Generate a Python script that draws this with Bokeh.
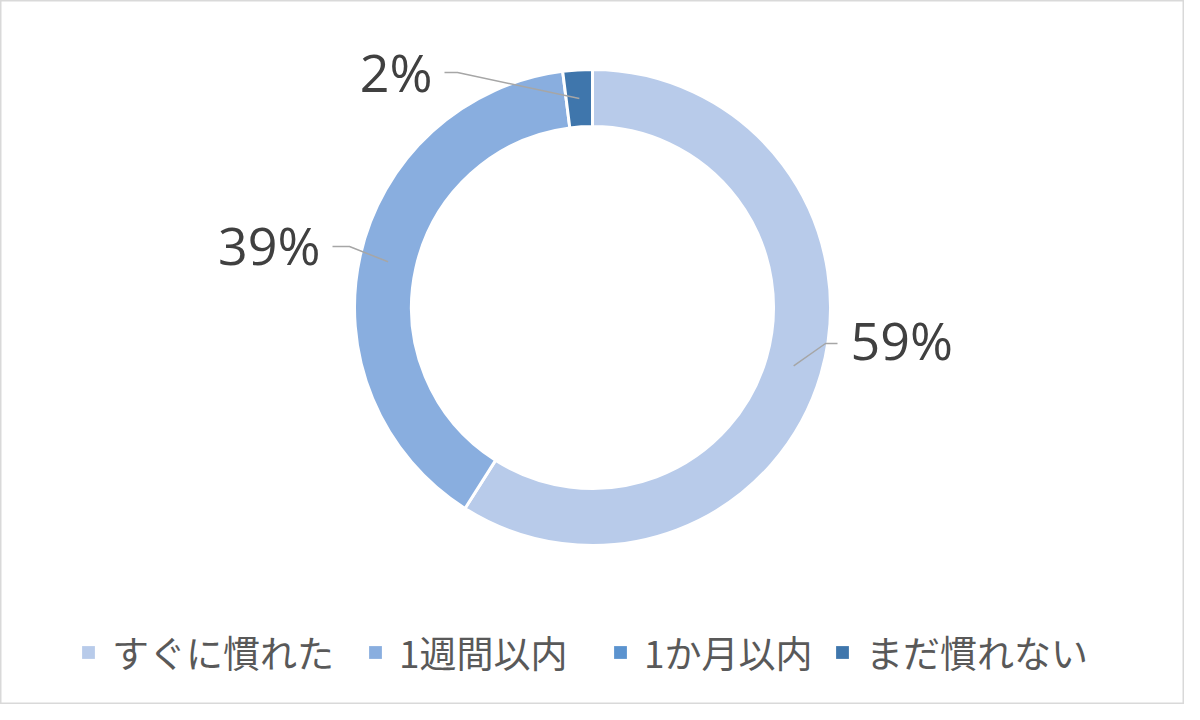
import math
from bokeh.plotting import figure
from bokeh.models import ColumnDataSource, Legend, LegendItem
from bokeh.core.properties import value
from bokeh.embed import file_html
from bokeh.resources import INLINE

# ---- data ----
categories = ["すぐに慣れた", "1週間以内", "1か月以内", "まだ慣れない"]
percents = [59, 39, 0, 2]
colors = ["#B8CBEA", "#89AEDF", "#5B93CF", "#3F76AC"]

# ---- layout ----
W, H = 1184, 704
CX, CY = 592, 704 - 307
R_OUT, R_IN = 238, 181
R_MID = (R_OUT + R_IN) / 2

total = sum(percents)
starts, ends, mids = [], [], []
acc = 0.0
for v in percents:
    a0 = acc / total * 2 * math.pi
    acc += v
    a1 = acc / total * 2 * math.pi
    # clockwise from 12 o'clock -> bokeh angle (ccw from +x)
    starts.append(math.pi / 2 - a0)
    ends.append(math.pi / 2 - a1)
    mids.append(math.pi / 2 - (a0 + a1) / 2)

nz = [i for i, v in enumerate(percents) if v > 0]
ring_src = ColumnDataSource(dict(cat=[categories[i] for i in nz],
                                 color=[colors[i] for i in nz],
                                 start=[starts[i] for i in nz],
                                 end=[ends[i] for i in nz]))
legend_src = ColumnDataSource(dict(cat=categories, color=colors,
                                   start=starts, end=ends,
                                   x=[float("nan")] * len(categories)))

p = figure(width=W, height=H, x_range=(0, W), y_range=(0, H),
           output_backend="svg", toolbar_location=None, min_border=0,
           x_axis_location=None, y_axis_location=None)
p.grid.visible = False
p.outline_line_color = "#D9D9D9"
p.outline_line_width = 2
p.background_fill_color = "white"
p.border_fill_color = "white"

p.annular_wedge(x=CX, y=CY, inner_radius=R_IN, outer_radius=R_OUT,
                start_angle="start", end_angle="end", direction="clock",
                fill_color="color", line_color="white", line_width=3,
                source=ring_src)

# legend-only renderer (not drawn: x is NaN)
leg_r = p.annular_wedge(x="x", y=CY, inner_radius=R_IN, outer_radius=R_OUT,
                        start_angle="start", end_angle="end",
                        direction="clock", fill_color="color",
                        line_alpha=0, source=legend_src)

# data labels with leader lines (label placement = layout)
label_layout = {
    0: dict(tx=850, ty=365, align="left", lx=[837, 825], ly=361),
    1: dict(tx=320, ty=460, align="right", lx=[332, 349], ly=458),
    3: dict(tx=432, ty=633, align="right", lx=[444, 457], ly=632),
}
for i, lay in label_layout.items():
    ex = CX + R_MID * math.cos(mids[i])
    ey = CY + R_MID * math.sin(mids[i])
    yy = lay["ly"]
    p.line(x=[lay["lx"][0], lay["lx"][1], ex], y=[yy, yy, ey],
           line_color="#A6A6A6", line_width=1.5)
    p.text(x=[lay["tx"]], y=[lay["ty"]], text=[f"{percents[i]}%"],
           text_font=value("Open Sans"), text_font_size="52px",
           text_color="#404040", text_align=lay["align"],
           text_baseline="middle")

legend_x = [80, 367, 612, 834]
for i, lx in enumerate(legend_x):
    lg = Legend(items=[LegendItem(label=categories[i], renderers=[leg_r], index=i)],
                orientation="horizontal", location=(lx, 25),
                glyph_width=16, glyph_height=16, label_standoff=16,
                spacing=0, padding=0, margin=0,
                label_text_font="Noto Sans CJK JP",
                label_text_font_size="37px", label_text_color="#595959",
                border_line_alpha=0, background_fill_alpha=0)
    p.add_layout(lg, "center")

open("out.html", "w").write(file_html(p, INLINE))
